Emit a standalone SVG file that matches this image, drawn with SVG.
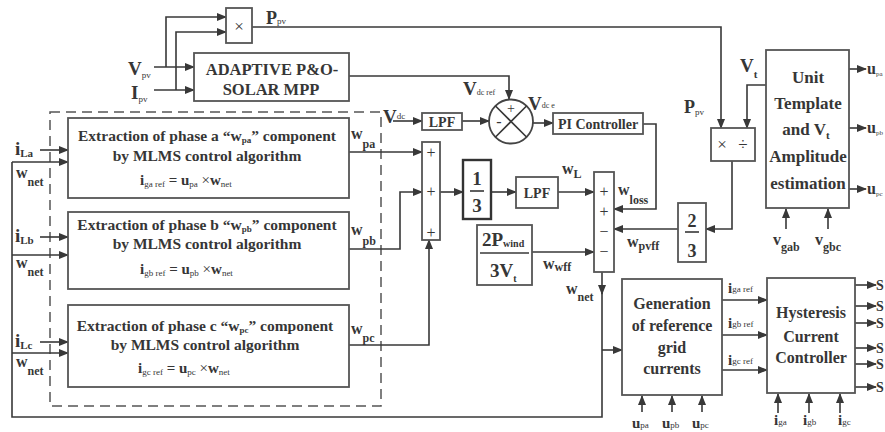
<svg xmlns="http://www.w3.org/2000/svg" width="885" height="432" viewBox="0 0 885 432">
<style>
text{font-family:"Liberation Serif","Times New Roman",serif;font-weight:bold;fill:#363636}
.m{text-anchor:middle}
.box{fill:#fff;stroke:#555;stroke-width:1.8}
.ln{fill:none;stroke:#383838;stroke-width:1.6}
.a{marker-end:url(#ah)}
.s{font-weight:normal}
</style>
<defs>
<marker id="ah" markerWidth="10" markerHeight="8" refX="9" refY="4" orient="auto" markerUnits="userSpaceOnUse"><path d="M0,0 L10,4 L0,8 z" fill="#383838"/></marker>
</defs>

<rect x="50" y="112" width="331" height="294" fill="none" stroke="#555" stroke-width="1.5" stroke-dasharray="10,6"/>

<g id="connectors">
<path class="ln a" d="M154,67 H194"/>
<path class="ln a" d="M166,67 V17 H226"/>
<path class="ln a" d="M154,90 H194"/>
<path class="ln a" d="M176,90 V32 H226"/>
<path class="ln a" d="M252,27 H721 V128"/>
<path class="ln a" d="M349,76 H509 V99"/>
<path class="ln a" d="M393,121 H422"/>
<path class="ln a" d="M462,121 H489"/>
<path class="ln a" d="M533,123 H553"/>
<path class="ln a" d="M643,124 H656 V209 H614"/>
<path class="ln a" d="M766,85 H747 V128"/>
<path class="ln a" d="M732,161 V229 H706"/>
<path class="ln a" d="M678,229 H614"/>
<path class="ln a" d="M532,252 H594"/>
<path class="ln a" d="M558,192 H594"/>
<path class="ln a" d="M491,192 H516"/>
<path class="ln a" d="M440,192 H463"/>
<path class="ln a" d="M349,152 H422"/>
<path class="ln a" d="M349,249 H400 V192 H422"/>
<path class="ln a" d="M349,345 H429 V240"/>
<path class="ln a" d="M602,272 V294"/>
<path class="ln" d="M602,290 V417 H12 V162"/>
<path class="ln a" d="M12,162 H68"/>
<path class="ln a" d="M12,255 H68"/>
<path class="ln a" d="M12,353 H68"/>
<path class="ln a" d="M602,350 H622"/>
<path class="ln a" d="M40,150 H68"/>
<path class="ln a" d="M40,237 H68"/>
<path class="ln a" d="M40,342 H68"/>
<path class="ln a" d="M722,300 H767"/>
<path class="ln a" d="M722,335 H767"/>
<path class="ln a" d="M722,370 H767"/>
<path class="ln a" d="M849,69 H866"/>
<path class="ln a" d="M849,128 H866"/>
<path class="ln a" d="M849,189 H866"/>
<path class="ln a" d="M786,229 V209"/>
<path class="ln a" d="M828,229 V209"/>
<path class="ln a" d="M642,412 V396"/>
<path class="ln a" d="M672,412 V396"/>
<path class="ln a" d="M702,412 V396"/>
<path class="ln a" d="M778,413 V394"/>
<path class="ln a" d="M809,413 V394"/>
<path class="ln a" d="M840,413 V394"/>
<path class="ln a" d="M855,285 H876"/>
<path class="ln a" d="M855,306 H876"/>
<path class="ln a" d="M855,323 H876"/>
<path class="ln a" d="M855,348 H876"/>
<path class="ln a" d="M855,364 H876"/>
<path class="ln a" d="M855,387 H876"/>
</g>

<g id="labels">
<text x="128" y="75" font-size="19">V<tspan font-size="9" dy="3" class="s">pv</tspan></text>
<text x="131" y="99" font-size="19">I<tspan font-size="9" dy="3" class="s">pv</tspan></text>
<text x="266" y="24" font-size="18">P<tspan font-size="9" dy="0" class="s">pv</tspan></text>
<text x="383" y="123" font-size="19">V<tspan font-size="9" dy="-4" class="s">dc</tspan></text>
<text x="463" y="95" font-size="19">V<tspan font-size="8" class="s">dc ref</tspan></text>
<text x="528" y="110" font-size="19">V<tspan font-size="8" dy="-2" class="s">dc e</tspan></text>
<text x="684" y="113" font-size="18">P<tspan font-size="9" dy="2" class="s">pv</tspan></text>
<text x="740" y="72" font-size="19">V<tspan font-size="11" dy="6">t</tspan></text>
<text x="15" y="155" font-size="19">i<tspan font-size="11" dy="2">La</tspan></text>
<text x="15" y="242" font-size="19">i<tspan font-size="11" dy="2">Lb</tspan></text>
<text x="15" y="347" font-size="19">i<tspan font-size="11" dy="2">Lc</tspan></text>
<text x="16" y="178" font-size="16">w<tspan font-size="12" dy="8">net</tspan></text>
<text x="16" y="268" font-size="16">w<tspan font-size="12" dy="8">net</tspan></text>
<text x="16" y="367" font-size="16">w<tspan font-size="12" dy="8">net</tspan></text>
<text x="351" y="139" font-size="16">w<tspan font-size="12" dy="9">pa</tspan></text>
<text x="351" y="235" font-size="16">w<tspan font-size="12" dy="10">pb</tspan></text>
<text x="351" y="334" font-size="16">w<tspan font-size="12" dy="8">pc</tspan></text>
<text x="562" y="174" font-size="16">w<tspan font-size="12" dy="4">L</tspan></text>
<text x="618" y="195" font-size="16">w<tspan font-size="12" dy="9">loss</tspan></text>
<text x="627" y="247" font-size="16">w<tspan font-size="12" dy="3">pvff</tspan></text>
<text x="543" y="269" font-size="16">w<tspan font-size="12" dy="2">wff</tspan></text>
<text x="566" y="294" font-size="16">w<tspan font-size="12" dy="7">net</tspan></text>
<text x="728" y="293" font-size="15">i<tspan font-size="9" dy="-1" class="s">ga ref</tspan></text>
<text x="728" y="328" font-size="15">i<tspan font-size="9" dy="-1" class="s">gb ref</tspan></text>
<text x="728" y="365" font-size="15">i<tspan font-size="9" dy="-1" class="s">gc ref</tspan></text>
<text x="867" y="74" font-size="16">u<tspan font-size="7" dy="2" class="s">pa</tspan></text>
<text x="867" y="133" font-size="16">u<tspan font-size="7" dy="2" class="s">pb</tspan></text>
<text x="867" y="194" font-size="16">u<tspan font-size="7" dy="2" class="s">pc</tspan></text>
<text x="773" y="245" font-size="16">v<tspan font-size="12" dy="6">gab</tspan></text>
<text x="815" y="245" font-size="16">v<tspan font-size="12" dy="6">gbc</tspan></text>
<text x="632" y="428" font-size="15">u<tspan font-size="9" class="s">pa</tspan></text>
<text x="662" y="428" font-size="15">u<tspan font-size="9" class="s">pb</tspan></text>
<text x="692" y="428" font-size="15">u<tspan font-size="9" class="s">pc</tspan></text>
<text x="774" y="425" font-size="15">i<tspan font-size="9" class="s">ga</tspan></text>
<text x="803" y="425" font-size="15">i<tspan font-size="9" class="s">gb</tspan></text>
<text x="838" y="425" font-size="15">i<tspan font-size="9" class="s">gc</tspan></text>
<text x="876" y="290" font-size="14">S</text>
<text x="876" y="311" font-size="14">S</text>
<text x="876" y="328" font-size="14">S</text>
<text x="876" y="353" font-size="14">S</text>
<text x="876" y="369" font-size="14">S</text>
<text x="876" y="392" font-size="14">S</text>
</g>

<g id="mult">
<rect class="box" x="226" y="8" width="26" height="35"/>
<text class="m s" x="239" y="32" font-size="17">×</text>
</g>

<g id="mpp">
<rect class="box" x="194" y="53" width="155" height="48"/>
<text class="m" x="272" y="75" font-size="16.5">ADAPTIVE P&amp;O-</text>
<text class="m" x="271" y="95" font-size="16.5">SOLAR MPP</text>
</g>

<g id="extract-a">
<rect class="box" x="68" y="118" width="281" height="80"/>
<text class="m" x="207" y="141" font-size="15.5">Extraction of phase a “w<tspan font-size="9" dy="2">pa</tspan><tspan dy="-2">” component</tspan></text>
<text class="m" x="207" y="161" font-size="15.5">by MLMS control algorithm</text>
<text x="140" y="185" font-size="15">i<tspan font-size="9" dy="2" class="s">ga ref</tspan><tspan dy="-2"> = u</tspan><tspan font-size="9" dy="2" class="s">pa</tspan><tspan dy="-2" class="s"> ×</tspan><tspan>w</tspan><tspan font-size="9" dy="2" class="s">net</tspan></text>
</g>

<g id="extract-b">
<rect class="box" x="68" y="212" width="281" height="77"/>
<text class="m" x="207" y="230" font-size="15.5">Extraction of phase b “w<tspan font-size="9" dy="2">pb</tspan><tspan dy="-2">” component</tspan></text>
<text class="m" x="207" y="249" font-size="15.5">by MLMS control algorithm</text>
<text x="140" y="274" font-size="15">i<tspan font-size="9" dy="2" class="s">gb ref</tspan><tspan dy="-2"> = u</tspan><tspan font-size="9" dy="2" class="s">pb</tspan><tspan dy="-2" class="s"> ×</tspan><tspan>w</tspan><tspan font-size="9" dy="2" class="s">net</tspan></text>
</g>

<g id="extract-c">
<rect class="box" x="68" y="305" width="281" height="82"/>
<text class="m" x="205" y="331" font-size="15.5">Extraction of phase c “w<tspan font-size="9" dy="2">pc</tspan><tspan dy="-2">” component</tspan></text>
<text class="m" x="205" y="350" font-size="15.5">by MLMS control algorithm</text>
<text x="138" y="373" font-size="15">i<tspan font-size="9" dy="2" class="s">gc ref</tspan><tspan dy="-2"> = u</tspan><tspan font-size="9" dy="2" class="s">pc</tspan><tspan dy="-2" class="s"> ×</tspan><tspan>w</tspan><tspan font-size="9" dy="2" class="s">net</tspan></text>
</g>

<g id="lpf1">
<rect class="box" x="422" y="113" width="40" height="17"/>
<text class="m" x="442" y="127" font-size="14">LPF</text>
</g>

<g id="sumcircle">
<circle cx="511" cy="121.5" r="22" fill="#fff" stroke="#444" stroke-width="1.8"/>
<path class="ln" d="M495.5,106 L526.5,137 M526.5,106 L495.5,137"/>
<text class="m s" x="511" y="113" font-size="14">+</text>
<text class="m s" x="499" y="127" font-size="16">-</text>
</g>

<g id="pi">
<rect class="box" x="553" y="113" width="90" height="21"/>
<text class="m" x="598" y="129" font-size="14">PI Controller</text>
</g>

<g id="sum1">
<rect class="box" x="422" y="142" width="18" height="98"/>
<text class="m s" x="431" y="158" font-size="16">+</text>
<text class="m s" x="431" y="197" font-size="16">+</text>
<text class="m s" x="431" y="238" font-size="16">+</text>
</g>

<g id="third">
<rect x="463" y="160" width="28" height="59" fill="#fff" stroke="#333" stroke-width="2.4"/>
<text class="m" x="477" y="185" font-size="19">1</text>
<path class="ln" d="M470,191 H484"/>
<text class="m" x="477" y="212" font-size="19">3</text>
</g>

<g id="lpf2">
<rect class="box" x="516" y="177" width="42" height="31"/>
<text class="m" x="537" y="198" font-size="14">LPF</text>
</g>

<g id="sum2">
<rect class="box" x="594" y="172" width="20" height="100"/>
<text class="m s" x="604" y="197" font-size="16">+</text>
<text class="m s" x="604" y="217" font-size="16">+</text>
<text class="m s" x="604" y="237" font-size="16">−</text>
<text class="m s" x="604" y="257" font-size="16">−</text>
</g>

<g id="wind">
<rect class="box" x="477" y="225" width="55" height="60"/>
<text x="482" y="246" font-size="19">2P<tspan font-size="10" dy="1">wind</tspan></text>
<path class="ln" d="M480,253 H529"/>
<text x="490" y="277" font-size="19">3V<tspan font-size="10" dy="5">t</tspan></text>
</g>

<g id="muldiv">
<rect class="box" x="711" y="128" width="44" height="33"/>
<text class="m s" x="722" y="150" font-size="17">×</text>
<text class="m s" x="743" y="150" font-size="17">÷</text>
</g>

<g id="twothirds">
<rect class="box" x="678" y="203" width="28" height="59"/>
<text class="m" x="692" y="227" font-size="18">2</text>
<path class="ln" d="M685,232 H699"/>
<text class="m" x="692" y="257" font-size="18">3</text>
</g>

<g id="unit">
<rect class="box" x="766" y="50" width="83" height="158"/>
<text class="m" x="808" y="83" font-size="17">Unit</text>
<text class="m" x="808" y="109" font-size="17">Template</text>
<text class="m" x="806" y="135" font-size="17">and V<tspan font-size="11" dy="4">t</tspan></text>
<text class="m" x="808" y="162" font-size="17">Amplitude</text>
<text class="m" x="808" y="189" font-size="17">estimation</text>
</g>

<g id="generation">
<rect class="box" x="622" y="279" width="100" height="116"/>
<text class="m" x="672" y="309" font-size="16">Generation</text>
<text class="m" x="672" y="331" font-size="16">of reference</text>
<text class="m" x="672" y="353" font-size="16">grid</text>
<text class="m" x="672" y="374" font-size="16">currents</text>
</g>

<g id="hysteresis">
<rect class="box" x="767" y="278" width="88" height="115"/>
<text class="m" x="811" y="318" font-size="16">Hysteresis</text>
<text class="m" x="811" y="342" font-size="16">Current</text>
<text class="m" x="811" y="363" font-size="16">Controller</text>
</g>
</svg>
